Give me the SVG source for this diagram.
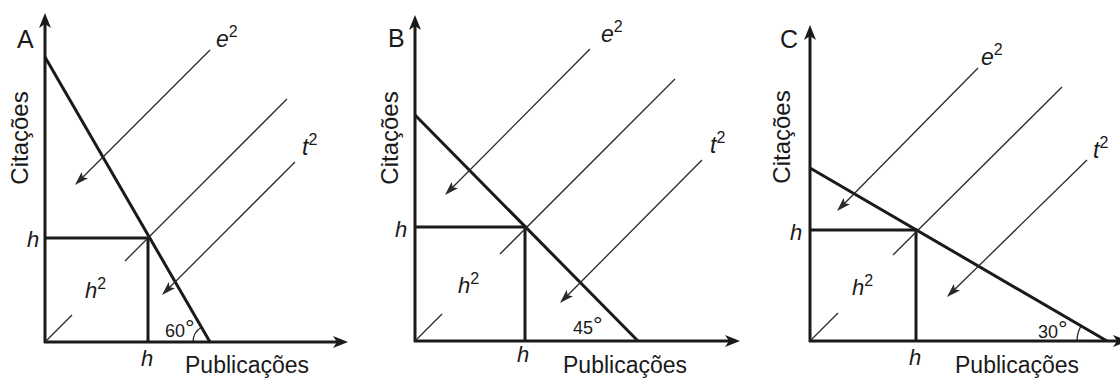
<svg xmlns="http://www.w3.org/2000/svg" width="1120" height="379" viewBox="0 0 1120 379">
<style>
text{font-family:"Liberation Sans",Arial,sans-serif;fill:#1a1a1a}
.ax{stroke:#1a1a1a;stroke-width:3;fill:none;marker-end:url(#axh)}
.thick{stroke:#1a1a1a;stroke-width:3;fill:none}
.thin{stroke:#2a2a2a;stroke-width:1.3;fill:none}
.arr{stroke:#2a2a2a;stroke-width:1.3;fill:none;marker-end:url(#th)}
.panel{font-size:25px}
.ylab{font-size:24px}
.xlab{font-size:23px}
.it{font-size:22px;font-style:italic}
.it2{font-size:23px;font-style:italic}
.sup{font-size:16px;font-style:normal}
.ang{font-size:18px}
</style>
<defs>
<marker id="axh" markerUnits="userSpaceOnUse" viewBox="-10 -7 17 14" markerWidth="17" markerHeight="14" refX="0" refY="0" orient="auto">
<path d="M6,0 L-9,-6 L-5,0 L-9,6 Z" fill="#1a1a1a"/>
</marker>
<marker id="th" markerUnits="userSpaceOnUse" viewBox="-9 -5 15 10" markerWidth="15" markerHeight="10" refX="0" refY="0" orient="auto">
<path d="M5,0 L-9,-4.5 L-6,0 L-9,4.5 Z" fill="#2a2a2a"/>
</marker>
</defs>
<rect width="1120" height="379" fill="#ffffff"/>

<g id="panelA">
<text class="panel" x="17" y="48">A</text>
<text class="ylab" transform="translate(28,138) rotate(-90)" text-anchor="middle">Citações</text>
<text class="xlab" x="185" y="373">Publicações</text>
<text class="it" x="27" y="247">h</text>
<text class="it" x="147" y="366" text-anchor="middle">h</text>
<text class="it" x="85" y="298">h<tspan class="sup" dy="-9">2</tspan></text>
<text class="it2" x="216" y="47">e<tspan class="sup" dy="-10">2</tspan></text>
<text class="it2" x="302" y="155">t<tspan class="sup" dy="-10">2</tspan></text>
<text class="ang" x="165" y="337">60<tspan font-size="24" dy="-1">°</tspan></text>
<path class="thin" d="M193,342 A17,17 0 0 1 201.5,327.3"/>
</g>

<g id="panelB">
<text class="panel" x="388" y="47">B</text>
<text class="ylab" transform="translate(398,138) rotate(-90)" text-anchor="middle">Citações</text>
<text class="xlab" x="563" y="373">Publicações</text>
<text class="it" x="395" y="237">h</text>
<text class="it" x="523" y="362" text-anchor="middle">h</text>
<text class="it" x="458" y="293">h<tspan class="sup" dy="-9">2</tspan></text>
<text class="it2" x="601" y="42">e<tspan class="sup" dy="-10">2</tspan></text>
<text class="it2" x="710" y="153">t<tspan class="sup" dy="-10">2</tspan></text>
<text class="ang" x="573" y="334">45<tspan font-size="24" dy="-1">°</tspan></text>
</g>

<g id="panelC">
<text class="panel" x="780" y="48">C</text>
<text class="ylab" transform="translate(790,137) rotate(-90)" text-anchor="middle">Citações</text>
<text class="xlab" x="955" y="373">Publicações</text>
<text class="it" x="790" y="240">h</text>
<text class="it" x="915" y="365" text-anchor="middle">h</text>
<text class="it" x="852" y="295">h<tspan class="sup" dy="-9">2</tspan></text>
<text class="it2" x="981" y="65">e<tspan class="sup" dy="-10">2</tspan></text>
<text class="it2" x="1093" y="158">t<tspan class="sup" dy="-10">2</tspan></text>
<text class="ang" x="1038" y="338">30<tspan font-size="24" dy="-1">°</tspan></text>
<path class="thin" d="M1077,341 A30,30 0 0 1 1081.1,325.9"/>
</g>

<g id="connectors">
<!-- Panel A -->
<line class="ax" x1="45" y1="343" x2="45" y2="19"/>
<line class="ax" x1="44" y1="342" x2="342" y2="342"/>
<line class="thick" x1="45" y1="57" x2="210" y2="342"/>
<polyline class="thick" points="45,238 148,238 148,342"/>
<line class="thin" x1="45" y1="342" x2="72" y2="315"/>
<line class="thin" x1="125" y1="261" x2="287" y2="99"/>
<line class="arr" x1="210" y1="50" x2="78.5" y2="181.5"/>
<line class="arr" x1="295" y1="162" x2="165.5" y2="291.5"/>
<!-- Panel B -->
<line class="ax" x1="415" y1="342" x2="415" y2="21"/>
<line class="ax" x1="414" y1="341" x2="734" y2="341"/>
<line class="thick" x1="415" y1="115" x2="638" y2="341"/>
<polyline class="thick" points="415,227 525,227 525,341"/>
<line class="thin" x1="415" y1="341" x2="442" y2="314"/>
<line class="thin" x1="500" y1="254" x2="675" y2="79"/>
<line class="arr" x1="590" y1="49" x2="448.5" y2="191.5"/>
<line class="arr" x1="702" y1="160" x2="563.5" y2="299.5"/>
<!-- Panel C -->
<line class="ax" x1="810" y1="342" x2="810" y2="31"/>
<line class="ax" x1="809" y1="341" x2="1122" y2="341"/>
<line class="thick" x1="810" y1="168" x2="1107" y2="341"/>
<polyline class="thick" points="810,230 916,230 916,341"/>
<line class="thin" x1="810" y1="341" x2="838" y2="313"/>
<line class="thin" x1="893" y1="255" x2="1062" y2="87"/>
<line class="arr" x1="978" y1="68" x2="840.5" y2="207.5"/>
<line class="arr" x1="1087" y1="160" x2="950.5" y2="293.5"/>
</g>
</svg>
